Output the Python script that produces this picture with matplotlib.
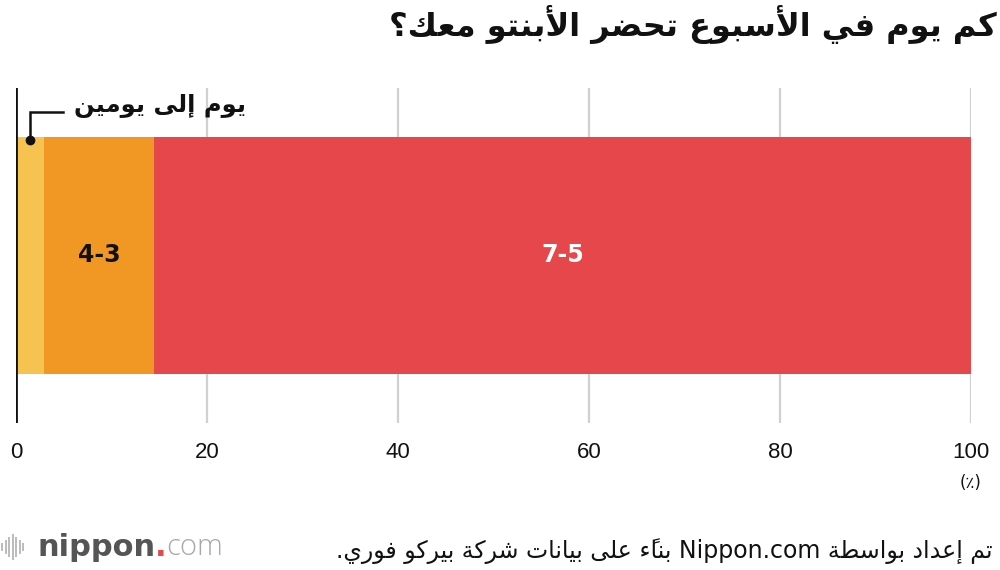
import matplotlib
matplotlib.use('Agg')
import matplotlib.pyplot as plt
from matplotlib.patches import Rectangle
import matplotlib.transforms as mtransforms

# ---------------- data ----------------
title = "كم يوم في الأسبوع تحضر الأبنتو معك؟"
categories = ["يوم إلى يومين", "4-3", "7-5"]
values = [2.9, 11.6, 85.5]
colors = ["#F6C350", "#F19824", "#E6474A"]
label_colors = ["#111111", "#111111", "#FFFFFF"]
xticks = [0, 20, 40, 60, 80, 100]
xticklabels = ["0", "20", "40", "60", "80", "100"]
unit = "(٪)"
source_ar1 = "بناءً على بيانات شركة بيركو فوري."
source_mid = "Nippon.com"
source_ar2 = "تم إعداد بواسطة"

# ---------------- minimal Arabic shaping ----------------
DUAL = {'ب': 0xFE8F, 'ت': 0xFE95, 'ث': 0xFE99, 'ج': 0xFE9D, 'ح': 0xFEA1, 'خ': 0xFEA5,
        'س': 0xFEB1, 'ش': 0xFEB5, 'ص': 0xFEB9, 'ض': 0xFEBD, 'ط': 0xFEC1, 'ظ': 0xFEC5,
        'ع': 0xFEC9, 'غ': 0xFECD, 'ف': 0xFED1, 'ق': 0xFED5, 'ك': 0xFED9, 'ل': 0xFEDD,
        'م': 0xFEE1, 'ن': 0xFEE5, 'ه': 0xFEE9, 'ي': 0xFEF1, 'ئ': 0xFE89}
RIGHT = {'ا': 0xFE8D, 'أ': 0xFE83, 'إ': 0xFE87, 'آ': 0xFE81, 'د': 0xFEA9, 'ذ': 0xFEAB,
         'ر': 0xFEAD, 'ز': 0xFEAF, 'و': 0xFEED, 'ؤ': 0xFE85, 'ة': 0xFE93, 'ى': 0xFEEF}
NONJ = {'ء': 0xFE80}
LAMALEF = {'ا': 0xFEFB, 'أ': 0xFEF7, 'إ': 0xFEF9, 'آ': 0xFEF5}
MARKS = set(chr(c) for c in range(0x064B, 0x0653))


def shape_rtl(text):
    units = []
    i = 0
    while i < len(text):
        ch = text[i]
        if ch in MARKS and units:
            units[-1][2] += ch
            i += 1
            continue
        if ch == 'ل' and i + 1 < len(text) and text[i + 1] in LAMALEF:
            units.append(['LA', text[i + 1], ''])
            i += 2
            continue
        if ch in DUAL:
            units.append(['D', ch, ''])
        elif ch in RIGHT:
            units.append(['R', ch, ''])
        elif ch in NONJ:
            units.append(['N', ch, ''])
        else:
            units.append(['X', ch, ''])
        i += 1
    out = []
    for k, (kind, ch, marks) in enumerate(units):
        prev_kind = units[k - 1][0] if k > 0 else 'X'
        next_kind = units[k + 1][0] if k + 1 < len(units) else 'X'
        jp = prev_kind == 'D' and kind in ('D', 'R', 'LA')
        jn = kind == 'D' and next_kind in ('D', 'R', 'LA')
        if kind == 'D':
            base = DUAL[ch]
            g = chr(base + (3 if jp and jn else 1 if jp else 2 if jn else 0))
        elif kind == 'R':
            g = chr(RIGHT[ch] + (1 if jp else 0))
        elif kind == 'LA':
            g = chr(LAMALEF[ch] + (1 if jp else 0))
        elif kind == 'N':
            g = chr(NONJ[ch])
        else:
            g = ch
        out.append(g + marks)
    return ''.join(reversed(out))


AR = ['DejaVu Sans']

# ---------------- figure ----------------
W, H = 1000, 570
fig = plt.figure(figsize=(10, 5.7), dpi=100)
ax_l, ax_r, ax_t, ax_b = 16, 971, 88, 423
ax = fig.add_axes([ax_l / W, 1 - ax_b / H, (ax_r - ax_l) / W, (ax_b - ax_t) / H])
ax.set_xlim(0, 100)
ax.set_ylim(-0.5, 0.5)
for s in ax.spines.values():
    s.set_visible(False)
ax.set_yticks([])

for t in xticks[1:]:
    ax.axvline(t, color='#d0d0d0', lw=1.6, zorder=0)
ax.axvline(0, color='#111111', lw=2.0, zorder=3)

bar_h = 0.705
left = 0
centers = []
for v, c in zip(values, colors):
    ax.barh(0, v, left=left, height=bar_h, color=c, zorder=2, linewidth=0)
    centers.append(left + v / 2)
    left += v

ax.set_xticks(xticks)
ax.set_xticklabels(xticklabels, fontsize=16, family='Liberation Sans', color='#111111')
ax.tick_params(axis='x', length=0, pad=14)

# unit under 100
trans = mtransforms.blended_transform_factory(ax.transData, fig.transFigure)
ax.text(100, 1 - 483 / H, unit, transform=trans, ha='center', va='center',
        fontsize=12, family=AR, color='#111111')

# inside-bar labels
for k in (1, 2):
    ax.text(centers[k], 0, categories[k], ha='center', va='center', fontsize=17,
            weight='bold', family='DejaVu Sans', color=label_colors[k], zorder=4)


def px2y(py):
    return (ax_b - py) / (ax_b - ax_t) - 0.5


def px2x(px):
    return (px - ax_l) / (ax_r - ax_l) * 100


x0 = centers[0]
ax.plot([x0, x0, px2x(63)], [px2y(140), px2y(112), px2y(112)], color='#111111',
        lw=1.8, zorder=5, clip_on=False, solid_joinstyle='miter')
ax.plot([x0], [px2y(140)], 'o', color='#111111', ms=6, zorder=6, clip_on=False)
ax.text(px2x(74), px2y(106), shape_rtl(categories[0]), ha='left', va='center',
        fontsize=17.5, weight='bold', family=AR, color='#111111', zorder=6)

# title
fig.text(997 / W, 1 - 25 / H, shape_rtl(title), ha='right', va='center',
         fontsize=23, weight='bold', family=AR, color='#111111')

# source
src = shape_rtl(source_ar1) + ' ' + source_mid + ' ' + shape_rtl(source_ar2)
fig.text(993 / W, 1 - 551 / H, src, ha='right', va='center', fontsize=17,
         family=AR, color='#111111')

# nippon.com logo
ly = 1 - 547 / H
bars = [(1, 8), (4.5, 14), (8, 20), (11.5, 26), (15, 20), (18.5, 14), (22, 8)]
for bx, bh in bars:
    fig.add_artist(Rectangle((bx / W, ly - bh / 2 / H), 2.0 / W, bh / H,
                             transform=fig.transFigure, color='#bdbdbd', lw=0))
t1 = fig.text(37 / W, ly, 'nippon', ha='left', va='center', fontsize=22,
              family='DejaVu Sans', color='#555555', weight='bold')
fig.canvas.draw()
bb = t1.get_window_extent()
t2 = fig.text(bb.x1 / W, ly, '.', ha='left', va='center', fontsize=22,
              family='DejaVu Sans', color='#E6474A', weight='bold')
bb2 = t2.get_window_extent()
fig.text(bb2.x1 / W, ly, 'com', ha='left', va='center', fontsize=21,
         family=['Open Sans', 'DejaVu Sans'], color='#a8a8a8', weight='light')

fig.savefig('out.png', dpi=100, facecolor='white')
